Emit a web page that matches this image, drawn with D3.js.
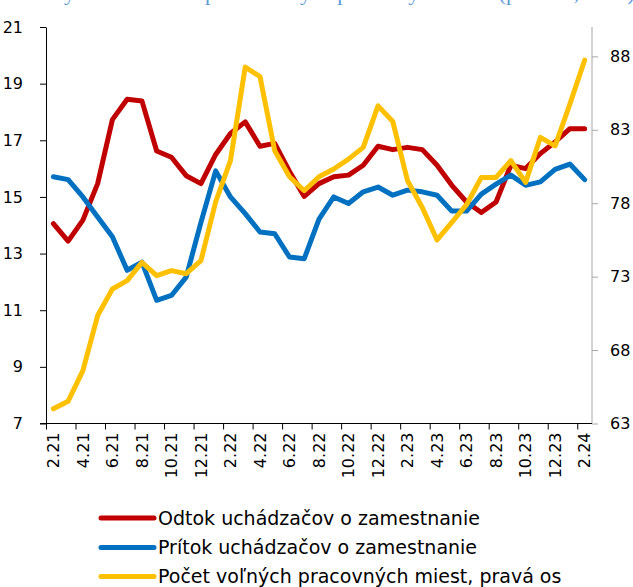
<!DOCTYPE html>
<html><head><meta charset="utf-8">
<script src="https://cdn.jsdelivr.net/npm/d3@7"></script>
<style>body{margin:0;background:#fff;overflow:hidden}</style>
</head><body><svg id="c" width="633" height="587"></svg>
<script>
const categories = ["2.21","3.21","4.21","5.21","6.21","7.21","8.21","9.21","10.21","11.21","12.21",
  "1.22","2.22","3.22","4.22","5.22","6.22","7.22","8.22","9.22","10.22","11.22","12.22",
  "1.23","2.23","3.23","4.23","5.23","6.23","7.23","8.23","9.23","10.23","11.23","12.23",
  "1.24","2.24"];
const tickLabels = ["2.21","4.21","6.21","8.21","10.21","12.21","2.22","4.22","6.22","8.22","10.22","12.22","2.23","4.23","6.23","8.23","10.23","12.23","2.24"];
const leftTicks = [7,9,11,13,15,17,19,21];
const rightTicks = [63,68,73,78,83,88];
const odtok = [14.06,13.44,14.18,15.47,17.73,18.45,18.39,16.62,16.40,15.75,15.47,16.50,17.24,17.65,16.79,16.89,15.90,15.02,15.47,15.71,15.77,16.12,16.79,16.67,16.75,16.67,16.12,15.41,14.82,14.45,14.82,16.12,16.00,16.53,16.94,17.41,17.41];
const pritok = [15.71,15.61,15.00,14.29,13.59,12.41,12.70,11.35,11.52,12.17,14.10,15.92,15.00,14.41,13.76,13.70,12.88,12.82,14.22,15.00,14.77,15.18,15.35,15.06,15.24,15.18,15.06,14.50,14.50,15.10,15.45,15.77,15.41,15.53,15.97,16.16,15.61];
const volneMiesta = [64.00,64.52,66.60,70.35,72.16,72.73,73.97,73.07,73.41,73.20,74.09,78.10,80.90,87.27,86.63,81.57,79.80,78.85,79.80,80.33,81.00,81.80,84.63,83.56,79.53,77.71,75.50,76.70,77.90,79.76,79.76,80.90,79.42,82.48,81.91,84.75,87.74];
const seriesNames = ["Odtok uchádzačov o zamestnanie","Prítok uchádzačov o zamestnanie","Počet voľných pracovných miest, pravá os"];
const seriesColors = ["#C00000","#0070C0","#FFC000"];
const titleText = "Toky uchádzačov a počet voľných pracovných miest (priemer, v tis.)";

const svg = d3.select("#c");
const FONT = "'DejaVu Sans', Verdana, sans-serif";
const L = 46, R = 592, T = 27, B = 423.5;

const x = d3.scaleBand().domain(categories).range([L, R]).padding(0);
const bw = x.bandwidth();
const yL = d3.scaleLinear().domain([7, 21]).range([B, T]);
const yR = d3.scaleLinear().domain([63, 90]).range([B, T]);
const xi = d3.scaleLinear().domain([0, categories.length]).range([L, R]);

// title (cut off at the top edge, as in the reference)
svg.append("text").attr("x", 30).attr("y", 0)
  .attr("font-family", "'Liberation Serif', serif").attr("font-size", 22)
  .attr("fill", "#5B9BD5").text(titleText);

// left axis
const gL = svg.append("g").attr("transform", `translate(${L},0)`)
  .call(d3.axisLeft(yL).tickValues(leftTicks).tickSize(6).tickPadding(17).tickSizeOuter(0));
gL.select(".domain").attr("stroke", "#000");
gL.selectAll(".tick line").attr("stroke", "#000");
gL.selectAll("text").attr("font-family", FONT).attr("font-size", 16).attr("fill", "#000");

// right axis
const gR = svg.append("g").attr("transform", `translate(${R},0)`)
  .call(d3.axisRight(yR).tickValues(rightTicks).tickSize(6).tickPadding(12).tickSizeOuter(0));
gR.select(".domain").attr("stroke", "#A6A6A6").attr("d", `M0,${T}V${B}`);
gR.selectAll(".tick line").attr("stroke", "#A6A6A6");
gR.selectAll("text").attr("font-family", FONT).attr("font-size", 16).attr("fill", "#000");

// x axis: tick marks at category boundaries
const tickIdx = categories.map((c, i) => i).filter(i => i % 2 === 0);
const gX = svg.append("g").attr("transform", `translate(0,${B})`)
  .call(d3.axisBottom(xi).tickValues(tickIdx).tickSize(6).tickFormat("").tickSizeOuter(0));
gX.select(".domain").attr("stroke", "#000").attr("d", `M${L-6},0H${R}`);
gX.selectAll(".tick line").attr("stroke", "#000");

// x labels at category centers
const gXL = svg.append("g").attr("transform", `translate(0,${B})`)
  .call(d3.axisBottom(x).tickValues(categories.filter(c => tickLabels.includes(c) && categories.indexOf(c) % 2 === 0)).tickSize(0));
gXL.select(".domain").remove();
gXL.selectAll("text")
  .attr("transform", "rotate(-90)").attr("x", -9).attr("y", 0).attr("dy", "0.36em")
  .style("text-anchor", "end")
  .attr("font-family", FONT).attr("font-size", 16).attr("fill", "#000");

// lines
const cx = (i) => x(categories[i]) + bw / 2;
const lineL = d3.line().x((d, i) => cx(i)).y(d => yL(d));
const lineR = d3.line().x((d, i) => cx(i)).y(d => yR(d));
const data = [[odtok, lineL], [pritok, lineL], [volneMiesta, lineR]];
data.forEach(([vals, gen], k) => {
  svg.append("path").datum(vals).attr("d", gen)
    .attr("fill", "none").attr("stroke", seriesColors[k]).attr("stroke-width", 5)
    .attr("stroke-linejoin", "round").attr("stroke-linecap", "round");
});

// legend
const legY = [518, 547.5, 576.5];
seriesNames.forEach((n, k) => {
  svg.append("line").attr("x1", 101).attr("x2", 154).attr("y1", legY[k]).attr("y2", legY[k])
    .attr("stroke", seriesColors[k]).attr("stroke-width", 5).attr("stroke-linecap", "round");
  svg.append("text").attr("x", 158).attr("y", legY[k]).attr("dy", "0.35em")
    .attr("font-family", FONT).attr("font-size", 19).attr("fill", "#000").text(n);
});
</script>
</body></html>
